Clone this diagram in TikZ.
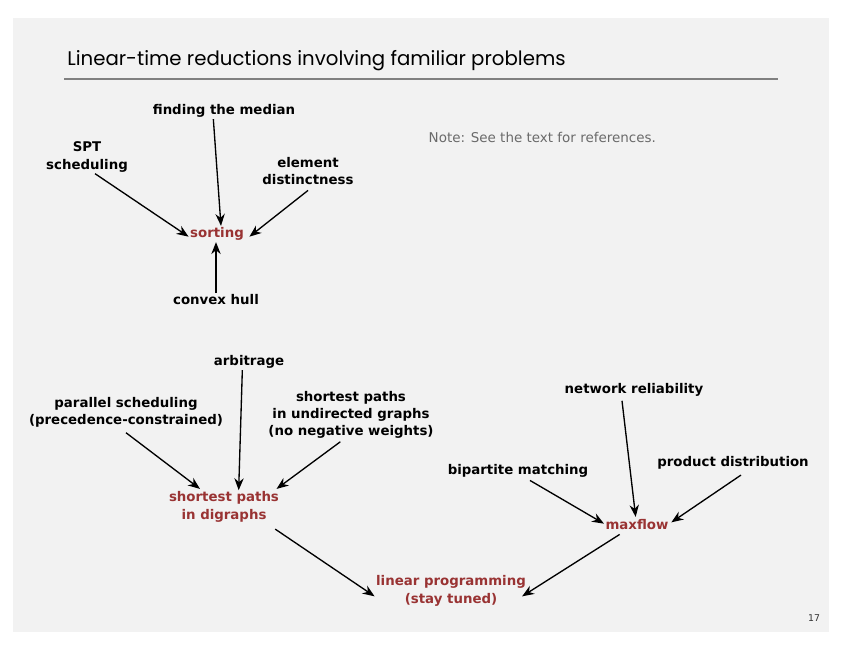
\documentclass[tikz,border=0pt]{standalone}
\usepackage{fontspec}
\setmainfont{DejaVu Sans}
\newfontfamily\titlefont{Poppins}
\usetikzlibrary{arrows.meta}
\definecolor{slidegray}{HTML}{F2F2F2}
\definecolor{redtext}{HTML}{993333}
\definecolor{notegray}{HTML}{6A6A6A}
\tikzset{
  prob/.style={font=\fontsize{10}{13}\selectfont\bfseries, align=center, inner sep=1pt},
  hub/.style={prob, text=redtext},
  arr/.style={-{Stealth[length=9pt,width=7pt]}, line width=1pt},
}
\begin{document}
\begin{tikzpicture}[x=0.75pt,y=-0.75pt]
    % Page
    \useasboundingbox (0,0) rectangle (842,650);
    \fill[slidegray] (13,18) rectangle (829,632);

    % Title and rule
    \node[anchor=base west, font=\titlefont\fontsize{14.8}{18}\selectfont, inner sep=0] (title) at (67,65) {Linear-time reductions involving familiar problems};
    \draw[gray, line width=0.8pt] (64,79) -- (778,79);
    \node[anchor=west, text=notegray, font=\fontsize{10.1}{12}\selectfont] (note) at (424,137) {Note: See the text for references.};

    % Sorting group
    \node[hub] (sorting) at (217,234) {sorting};
    \node[prob] (median) at (224,111) {finding the median};
    \node[prob] (spt) at (87,157) {SPT\\scheduling};
    \node[prob] (element) at (308,171) {element\\distinctness};
    \node[prob] (hull) at (216,300) {convex hull};

    \draw[arr] ([xshift=6pt]spt.south) -- ([yshift=-2pt]sorting.west);
    \draw[arr] ([xshift=-8pt]median.south) -- ([xshift=3pt]sorting.north);
    \draw[arr] ([yshift=-3pt]element.south) -- ([xshift=3pt,yshift=-2pt]sorting.east);
    \draw[arr] (hull.north) -- (hull.north |- sorting.south);

    % Shortest paths group
    \node[hub] (sp) at (224,507) {shortest paths\\in digraphs};
    \node[prob] (arb) at (249,362) {arbitrage};
    \node[prob] (par) at (126,412) {parallel scheduling\\(precedence-constrained)};
    \node[prob] (undir) at (351,415) {shortest paths\\in undirected graphs\\(no negative weights)};

    \draw[arr] ([xshift=-5pt]arb.south) -- ([xshift=11pt]sp.north);
    \draw[arr] ([yshift=-3pt]par.south) -- ([xshift=-18pt,yshift=1pt]sp.north);
    \draw[arr] ([xshift=-8pt,yshift=-1pt]undir.south) -- ([xshift=-3pt,yshift=1pt]sp.north east);

    % Maxflow group
    \node[hub] (maxflow) at (637,525) {maxflow};
    \node[prob] (net) at (634,390) {network reliability};
    \node[prob] (bip) at (518,471) {bipartite matching};
    \node[prob] (prod) at (733,463) {product distribution};

    \draw[arr] ([xshift=-9pt,yshift=-2pt]net.south) -- ([xshift=-1pt,yshift=1pt]maxflow.north);
    \draw[arr] ([xshift=9pt,yshift=-1pt]bip.south) -- ([yshift=1pt]maxflow.west);
    \draw[arr] ([xshift=6pt,yshift=-3pt]prod.south) -- ([xshift=1pt,yshift=2pt]maxflow.east);

    % Linear programming
    \node[hub] (lp) at (451,591) {linear programming\\(stay tuned)};
    \draw[arr] ([xshift=-4pt,yshift=-4pt]sp.south east) -- ([yshift=-4pt]lp.west);
    \draw[arr] ([xshift=-13pt,yshift=-2pt]maxflow.south) -- ([xshift=-4pt,yshift=-4pt]lp.east);

    % Page number
    \node[font=\fontsize{7}{8}\selectfont, text=black!80] (page) at (814,618) {17};
\end{tikzpicture}
\end{document}
